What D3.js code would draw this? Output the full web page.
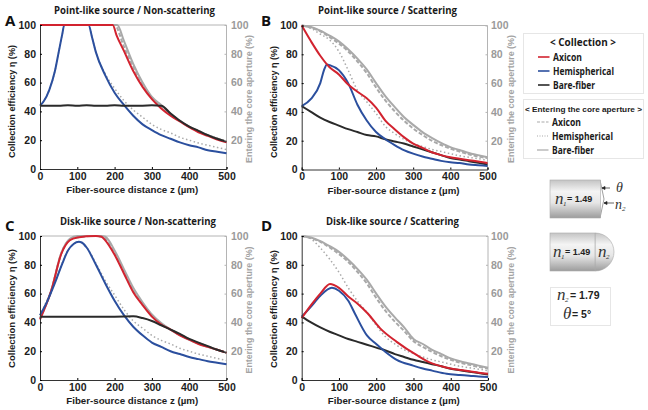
<!DOCTYPE html>
<html>
<head>
<meta charset="utf-8">
<script src="https://cdn.jsdelivr.net/npm/d3@7"></script>
<style>
  html, body { margin: 0; padding: 0; background: #fff; }
  svg { display: block; }
  .tick-l { font: bold 10.5px "Liberation Sans", Arial, sans-serif; fill: #1c1c1c; }
  .tick-r { font: bold 10.5px "Liberation Sans", Arial, sans-serif; fill: #9a9a9a; }
  .label { font: bold 9.5px "Liberation Sans", Arial, sans-serif; fill: #1c1c1c; }
  .label-r { font: bold 9.5px "Liberation Sans", Arial, sans-serif; fill: #a3a3a3; }
  .title { font: bold 11px "Open Sans", sans-serif; fill: #1a1a1a; }
  .letter { font: bold 15px "Open Sans", sans-serif; fill: #111; }
  .leg { font: bold 10px "Open Sans", sans-serif; fill: #1a1a1a; }
  .leg-small { font: bold 8px "Liberation Sans", sans-serif; fill: #1a1a1a; }
  .n { font: italic 17px "Liberation Serif", serif; fill: #333; }
  .n-small { font: italic 14px "Liberation Serif", serif; fill: #333; }
  .sub { font: italic 7px "Liberation Serif", serif; fill: #333; }
  .num { font: bold 9px "Liberation Sans", sans-serif; fill: #222; }
</style>
</head>
<body>
<svg id="chart" width="648" height="410"></svg>
<script>
// shared z positions (um)
var zGrid = [0,25,50,75,100,125,150,175,200,225,250,275,300,325,350,375,400,425,450,475,500];
var tickValues = [0,20,40,60,80,100];
var xTickValues = [0,100,200,300,400,500];

// Panel A
var aBareZ = [0,50,75,100,125,150,175,200,225,250,275,300,325,350,375,400,425,450,475,500];
var aBare  = [44,44,44.3,44,44.3,44,44,44.3,44,44,44,44.2,44,38.5,33.5,29.5,26.5,23.5,21,19];
var aAxiconZ = [0,100,195,205,225,250,275,300,325,350,375,400,425,450,475,500];
var aAxicon  = [100,100,100,93,82,68,57,48.5,42,37,33,29,25.5,23,20.5,18.5];
var aHemiZ = [0,10,25,40,50,60,65,130,140,150,175,200,225,250,275,300,325,350,375,400,425,450,475,500];
var aHemi  = [44,47,55,68,81,94,100,100,91,81,65,53,44.5,37,31,27,23.5,21,18.5,16.5,15,13,12,11];
var aEnterBareZ = [0,100,207,225,250,275,300,325,350,500];
var aEnterBare  = [100,100,100,89,73,60,50,44.5,38.5,19];
var aEnterAxiconZ = [0,100,200,225,250,275,300,325,350,500];
var aEnterAxicon  = [100,100,100,85,71,59,49.5,43.5,38,19];
var aEnterHemiZ = [0,10,25,40,50,60,65,130,140,150,175,200,225,250,275,300,325,350,375,400,425,450,475,500];
var aEnterHemi  = [44,47,55,68,81,94,100,100,91,81,66,56,47.5,41,36,31,27.5,25,22,20,18,16.5,15,13.5];

// Panel B
var bBare = [44,40,36,33,30.5,28,26,24,23,21,19.5,18,16,14,12,10,8,7,5.8,4.6,3.5];
var bAxicon = [100,89,79,71,66,59,54,49.5,43,34,28,22.5,18,15,12,10,8.5,7.5,6.5,5.5,4.5];
var bHemiZ = [0,25,50,60,68,75,100,125,150,175,200,225,250,275,300,325,350,375,400,425,450,475,500];
var bHemi  = [44,49,60,69,73,72.5,69,60,45,34,26,21,17,13.5,11,9,7.5,6,5,4.5,3.5,3,2.5];
var bEnterBare = [100,99,96.5,93,89,83.5,77,69.5,60,51,43.5,36.5,31,26,22,18.5,15.5,13.5,11.5,10,8.5];
var bEnterAxicon = [100,98.5,96,92,87.5,82,75,67,57,48,40.5,34,28.5,24,20,17,14.5,12.5,10.5,9,8];
var bEnterHemi = [100,98,94,90,82,69,55,47,39,30,25,21,18,16,14,12.5,11,9.5,8.5,7.5,6.5];

// Panel C
var cBareZ = [0,50,100,150,200,250,275,300,325,350,375,400,425,450,475,500];
var cBare  = [44,44,44,44,44,44.2,43,41,38,35,32,28.5,26,23.5,21,19];
var cAxiconZ = [0,30,57,80,100,150,165,175,200,225,250,275,300,325,350,375,400,425,450,475,500];
var cAxicon  = [42,62,87.5,97,99,100,99.5,97,87,74,61,52,44,38.5,35,31,28,25,23,21,19];
var cHemiZ = [0,20,39,60,75,90,104,112,125,150,175,200,225,250,275,300,325,350,375,400,425,450,475,500];
var cHemi  = [45,55,66.7,81,90,94.5,96,95.5,92,80,67,55,45,37,31,26,23,20,18,16,14.5,13,12,11];
var cEnterBareZ = [0,30,57,80,100,165,175,200,225,250,275,300,325,350,500];
var cEnterBare  = [43,62,88,98,100,100,99.5,90,77,64,54,45.5,39.5,35,19];
var cEnterAxiconZ = [0,30,57,80,100,150,170,200,225,250,275,300,325,350,500];
var cEnterAxicon  = [43,62,88,97.5,99,100,99,88,75,62,53,45,39,35,19];
var cEnterHemiZ = [0,39,75,104,125,150,175,200,225,250,275,300,325,350,375,400,425,450,475,500];
var cEnterHemi  = [45,67,90,96,92,81,69,59,49,41,36,31,27.5,25,22,20,18,16.5,15,13.5];

// Panel D
var dBare = [44,40,36.5,33.5,31,28.5,26.5,24.5,22.5,20.5,18,16,14,12.5,11,9.5,7.8,6.8,5.8,4.8,3.8];
var dAxiconZ = [0,25,50,76,100,125,150,178,210,255,308,350,375,400,425,450,475,500];
var dAxicon  = [43,52,60,66.7,64,58,53,46,36,26.5,17.4,11.5,9.5,8,7,6,5,4.3];
var dHemiZ = [0,25,50,81,100,125,143,175,200,225,255,299,325,350,389,425,450,475,500];
var dHemi  = [44,51,58.5,64,62,55,46,31,25,19.5,14,10,8,6.5,4.3,3.5,3,2.4,2];
var dEnterBare = [100,99,96.5,93,89,83.5,77,69.5,60,51,43.5,36.5,28.5,25,21,18,15,13,11.5,10,8.5];
var dEnterAxicon = [100,98.5,96,92,87.5,82,75,67,57,48,40.5,34,27,23,19.5,16.5,14,12,10.5,9,8];
var dEnterHemiZ = [0,25,49,75,103,125,152,175,200,225,250,275,308,350,375,400,425,450,475,500];
var dEnterHemi  = [100,98,92,84,73.6,64,54,47,38,30,25,21,17.6,14,12.5,11,9.5,8.5,7.5,6.5];

var red = "#d2232f", blue = "#2b4f9e", black = "#2a2a2a", gray = "#a9a9a9";

var panels = [
  {letter:"A", title:"Point-like source / Non-scattering", left:40, right:226.5, top:25, bottom:169,
   titleX:134.5, titleLen:161, titleY:14, letterX:5, letterY:26, leftLabelX:11, rightLabelX:248,
   rightTickX:231, leftMid:101.5, leftLen:113, rightMid:99, rightLen:128, series:[
    [aEnterBareZ, aEnterBare, gray, ""], [aEnterAxiconZ, aEnterAxicon, gray, "4,2"], [aEnterHemiZ, aEnterHemi, gray, "1.5,2.5"],
    [aHemiZ, aHemi, blue, ""], [aAxiconZ, aAxicon, red, ""], [aBareZ, aBare, black, ""]]},
  {letter:"B", title:"Point-like source / Scattering", left:301.7, right:487.5, top:25.5, bottom:169.5,
   titleX:387.5, titleLen:139, titleY:14, letterX:261, letterY:26, leftLabelX:273, rightLabelX:510,
   rightTickX:491, leftMid:102, leftLen:112, rightMid:99, rightLen:128, series:[
    [zGrid, bEnterHemi, gray, "1.5,2.5"], [zGrid, bEnterAxicon, gray, "4,2"], [zGrid, bEnterBare, gray, ""],
    [zGrid, bBare, black, ""], [bHemiZ, bHemi, blue, ""], [zGrid, bAxicon, red, ""]]},
  {letter:"C", title:"Disk-like source / Non-scattering", left:40, right:226.5, top:236, bottom:380,
   titleX:138, titleLen:156, titleY:225, letterX:5, letterY:231, leftLabelX:11, rightLabelX:248,
   rightTickX:231, leftMid:308.5, leftLen:119, rightMid:310, rightLen:127, series:[
    [cEnterBareZ, cEnterBare, gray, ""], [cEnterAxiconZ, cEnterAxicon, gray, "4,2"], [cEnterHemiZ, cEnterHemi, gray, "1.5,2.5"],
    [cAxiconZ, cAxicon, red, ""], [cHemiZ, cHemi, blue, ""], [cBareZ, cBare, black, ""]]},
  {letter:"D", title:"Disk-like source / Scattering", left:301.7, right:488, top:236, bottom:380,
   titleX:392.5, titleLen:133, titleY:225, letterX:261, letterY:231, leftLabelX:273, rightLabelX:510,
   rightTickX:491, leftMid:309, leftLen:118, rightMid:310, rightLen:127, series:[
    [dEnterHemiZ, dEnterHemi, gray, "1.5,2.5"], [zGrid, dEnterAxicon, gray, "4,2"], [zGrid, dEnterBare, gray, ""],
    [zGrid, dBare, black, ""], [dHemiZ, dHemi, blue, ""], [dAxiconZ, dAxicon, red, ""]]}
];

var svg = d3.select("#chart");

panels.forEach(drawPanel);
drawLegend();
drawFibers();


function drawPanel(p) {
    var x = d3.scaleLinear().domain([0, 500]).range([p.left, p.right]);
    var y = d3.scaleLinear().domain([0, 100]).range([p.bottom, p.top]);
    var g = svg.append("g");

    // grey top and right edge of the box
    g.append("path")
        .attr("d", "M" + p.left + "," + p.top + "H" + p.right + "V" + p.bottom)
        .attr("fill", "none").attr("stroke", "#b4b4b4").attr("stroke-width", 1);

    var line = d3.line()
        .x(function(d) { return x(d[0]); })
        .y(function(d) { return y(d[1]); })
        .curve(d3.curveMonotoneX);

    p.series.forEach(function(s) {
        g.append("path")
            .datum(s[0].map(function(z, i) { return [z, s[1][i]]; }))
            .attr("d", line)
            .attr("fill", "none")
            .attr("stroke", s[2])
            .attr("stroke-width", s[3] === "1.5,2.5" ? 1.5 : 2)
            .attr("stroke-dasharray", s[3] || null);
    });

    var bottomAxis = g.append("g")
        .attr("transform", "translate(0," + p.bottom + ")")
        .call(d3.axisBottom(x).tickValues(xTickValues).tickSize(-2).tickPadding(5));
    bottomAxis.selectAll("text").attr("class", "tick-l").attr("dy", "0.55em").attr("font-family", null);
    bottomAxis.select(".domain").attr("stroke", "#333");

    var leftAxis = g.append("g")
        .attr("transform", "translate(" + p.left + ",0)")
        .call(d3.axisLeft(y).tickValues(tickValues).tickSize(-2).tickPadding(4));
    leftAxis.selectAll("text").attr("class", "tick-l").attr("font-family", null);
    leftAxis.select(".domain").attr("stroke", "#333");

    var rightAxis = g.append("g")
        .attr("transform", "translate(" + p.right + ",0)")
        .call(d3.axisRight(y).tickValues(tickValues.slice(1)).tickSize(-2).tickPadding(p.rightTickX - p.right));
    rightAxis.selectAll("text").attr("class", "tick-r").attr("font-family", null);
    rightAxis.selectAll("line").attr("stroke", "#b4b4b4");
    rightAxis.select(".domain").remove();

    g.append("text").attr("class", "title")
        .attr("x", p.titleX).attr("y", p.titleY).attr("text-anchor", "middle")
        .attr("textLength", p.titleLen).attr("lengthAdjust", "spacingAndGlyphs")
        .text(p.title);
    g.append("text").attr("class", "letter")
        .attr("x", p.letterX).attr("y", p.letterY).text(p.letter);

    g.append("text").attr("class", "label")
        .attr("x", (p.left + p.right) / 2 - 1).attr("y", p.bottom + 24).attr("text-anchor", "middle")
        .attr("textLength", 132).attr("lengthAdjust", "spacingAndGlyphs")
        .text("Fiber-source distance z (\u00b5m)");

    g.append("text").attr("class", "label")
        .attr("transform", "translate(" + (p.leftLabelX + 4) + "," + p.leftMid + ") rotate(-90)")
        .attr("text-anchor", "middle")
        .attr("textLength", p.leftLen).attr("lengthAdjust", "spacingAndGlyphs")
        .text("Collection efficiency \u03b7 (%)");

    g.append("text").attr("class", "label-r")
        .attr("transform", "translate(" + (p.rightLabelX + 4) + "," + p.rightMid + ") rotate(-90)")
        .attr("text-anchor", "middle")
        .attr("textLength", p.rightLen).attr("lengthAdjust", "spacingAndGlyphs")
        .text("Entering the core aperture (%)");
}


function drawLegend() {
    var g = svg.append("g");

    g.append("rect").attr("x", 523.5).attr("y", 33.5).attr("width", 120).attr("height", 60)
        .attr("fill", "#fff").attr("stroke", "#e6e6e6");
    g.append("rect").attr("x", 523.5).attr("y", 99.5).attr("width", 120).attr("height", 59)
        .attr("fill", "#fff").attr("stroke", "#e6e6e6");

    g.append("text").attr("class", "leg").attr("x", 583).attr("y", 45.5).attr("text-anchor", "middle")
        .attr("textLength", 66).attr("lengthAdjust", "spacingAndGlyphs").text("< Collection >");
    g.append("text").attr("class", "leg-small").attr("x", 525).attr("y", 111.5)
        .attr("textLength", 117).attr("lengthAdjust", "spacingAndGlyphs").text("< Entering the core aperture >");

    var items = [
        {name:"Axicon", color:red, dash:null, y:57, x0:538, len:29},
        {name:"Hemispherical", color:blue, dash:null, y:71, x0:538, len:61},
        {name:"Bare-fiber", color:black, dash:null, y:85, x0:538, len:42},
        {name:"Axicon", color:gray, dash:"3,1.5", y:122, x0:537, len:29},
        {name:"Hemispherical", color:gray, dash:"1,1.5", y:136, x0:537, len:61},
        {name:"Bare-fiber", color:gray, dash:null, y:150, x0:537, len:42}
    ];
    items.forEach(function(d) {
        g.append("line").attr("x1", d.x0).attr("x2", d.x0 + 11.5).attr("y1", d.y).attr("y2", d.y)
            .attr("stroke", d.color).attr("stroke-width", d.color === gray ? 1.2 : 1.6)
            .attr("stroke-dasharray", d.dash);
        g.append("text").attr("class", "leg").attr("x", d.x0 + 15).attr("y", d.y + 3.8)
            .attr("textLength", d.len).attr("lengthAdjust", "spacingAndGlyphs").text(d.name);
    });
}


function drawFibers() {
    var defs = svg.append("defs");
    var grad = defs.append("linearGradient").attr("id", "fiber")
        .attr("x1", 0).attr("x2", 0).attr("y1", 0).attr("y2", 1);
    grad.append("stop").attr("offset", "0").attr("stop-color", "#c4c4c4");
    grad.append("stop").attr("offset", "0.3").attr("stop-color", "#f4f4f4");
    grad.append("stop").attr("offset", "0.6").attr("stop-color", "#e6e6e6");
    grad.append("stop").attr("offset", "1").attr("stop-color", "#9c9c9c");

    var g = svg.append("g");

    // axicon tip
    g.append("path").attr("d", "M600,180L604,199L600,218")
        .attr("fill", "none").attr("stroke", "#888").attr("stroke-width", 0.8);
    g.append("rect").attr("x", 550).attr("y", 180).attr("width", 50.5).attr("height", 38)
        .attr("fill", "url(#fiber)").attr("stroke", "#aaa").attr("stroke-width", 0.6);
    g.append("path").attr("d", "M610,188H602M602,188l3,-1.5v3z M614,203H604M604,203l3,-1.5v3z")
        .attr("fill", "#222").attr("stroke", "#222").attr("stroke-width", 0.7);
    g.append("text").attr("class", "n-small").attr("x", 616).attr("y", 192).text("\u03b8");
    g.append("text").attr("class", "n-small").attr("x", 615).attr("y", 209).text("n");
    g.append("text").attr("class", "sub").attr("x", 622).attr("y", 211).text("2");
    g.append("text").attr("class", "n").attr("x", 555).attr("y", 204).text("n");
    g.append("text").attr("class", "sub").attr("x", 563).attr("y", 206).text("1");
    g.append("text").attr("class", "num").attr("x", 567).attr("y", 202).text("= 1.49");

    // hemispherical tip
    g.append("path").attr("d", "M595,233C606,233 614,242 614,252C614,262 606,271 595,271Z")
        .attr("fill", "url(#fiber)").attr("stroke", "#aaa").attr("stroke-width", 0.6);
    g.append("rect").attr("x", 550).attr("y", 233).attr("width", 45).attr("height", 38)
        .attr("fill", "url(#fiber)").attr("stroke", "#aaa").attr("stroke-width", 0.6);
    g.append("text").attr("class", "n").attr("x", 553).attr("y", 257).text("n");
    g.append("text").attr("class", "sub").attr("x", 561).attr("y", 259).text("1");
    g.append("text").attr("class", "num").attr("x", 565).attr("y", 255).text("= 1.49");
    g.append("text").attr("class", "n").attr("x", 598).attr("y", 257).text("n");
    g.append("text").attr("class", "sub").attr("x", 606).attr("y", 259).text("2");

    // parameter box
    g.append("rect").attr("x", 550.5).attr("y", 287.5).attr("width", 60).attr("height", 38)
        .attr("fill", "#fff").attr("stroke", "#e6e6e6");
    g.append("text").attr("class", "n").attr("x", 557).attr("y", 300).text("n");
    g.append("text").attr("class", "sub").attr("x", 565).attr("y", 302).text("2");
    g.append("text").attr("class", "num").attr("x", 570).attr("y", 299).style("font-size", "10.5px").text("= 1.79");
    g.append("text").attr("class", "n").attr("x", 563).attr("y", 319).text("\u03b8");
    g.append("text").attr("class", "num").attr("x", 572).attr("y", 318).style("font-size", "10.5px").text("= 5\u00b0");
}
</script>
</body>
</html>
